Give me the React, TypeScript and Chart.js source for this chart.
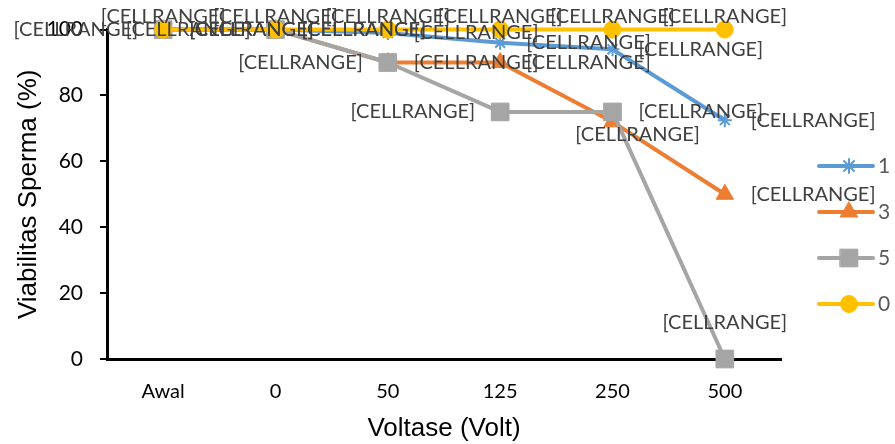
import React, { useEffect, useRef } from "react";
import { Chart, registerables } from "chart.js";
import { drawPoint } from "chart.js/helpers";

Chart.register(...registerables);

// ---- data ----
const categories = ["Awal", "0", "50", "125", "250", "500"];
const seriesNames = ["1", "3", "5", "0"];
const series1 = [100, 100, 99, 96, 94, 72.5];
const series3 = [100, 100, 90, 90, 72, 50];
const series5 = [100, 100, 90, 75, 75, 0];
const series0 = [100, 100, 100, 100, 100, 100];
const yMin = 0;
const yMax = 100;
const yStep = 20;
const pointLabelText = "[CELLRANGE]";
const xTitle = "Voltase (Volt)";
const yTitle = "Viabilitas Sperma (%)";

// ---- styles ----
const colors = ["#5B9BD5", "#ED7D31", "#A5A5A5", "#FFC000"];
const pointStyles = ["star", "triangle", "rect", "circle"];
const pointRadii = [7, 10, 12.5, 8.5];
const pointBorderW = [2, 1, 1, 1];
// label placement per series / point: r=right, l=left, t=above, br=below-right
const labelPlacement = [
  ["r", "r", "r", "r", "r", "r"],
  ["r", "r", "r", "r", "br", "r"],
  ["l", "l", "l", "l", "r", "t"],
  ["t", "t", "t", "t", "t", "t"],
];

const LABEL_FONT = "20px Lato";
const LABEL_COLOR = "#404040";

const labelPlugin = {
  id: "cellLabels",
  afterDatasetsDraw(chart: any) {
    const ctx = chart.ctx;
    ctx.save();
    ctx.font = LABEL_FONT;
    ctx.fillStyle = LABEL_COLOR;
    ctx.textBaseline = "middle";
    chart.data.datasets.forEach((ds: any, di: number) => {
      const meta = chart.getDatasetMeta(di);
      meta.data.forEach((pt: any, i: number) => {
        const pos = labelPlacement[di][i];
        let x = pt.x;
        let y = pt.y;
        let align: CanvasTextAlign = "left";
        if (pos === "r") {
          x = pt.x + 26;
          align = "left";
        } else if (pos === "l") {
          x = pt.x - 25;
          align = "right";
        } else if (pos === "t") {
          align = "center";
          y = pt.y - 36;
        } else if (pos === "br") {
          align = "center";
          x = pt.x + 25;
          y = pt.y + 13;
        }
        if (y < 17) y = 17;
        ctx.textAlign = align;
        ctx.fillText(pointLabelText, x, y);
      });
    });
    ctx.restore();
  },
};

const legendPlugin = {
  id: "sideLegend",
  afterDraw(chart: any) {
    const ctx = chart.ctx;
    ctx.save();
    const x0 = chart.width - 74;
    const y0 = 166;
    const gap = 46;
    chart.data.datasets.forEach((ds: any, i: number) => {
      const y = y0 + i * gap;
      ctx.strokeStyle = ds.borderColor;
      ctx.lineWidth = 4;
      ctx.lineCap = "round";
      ctx.beginPath();
      ctx.moveTo(x0 - 2, y);
      ctx.lineTo(x0 + 52, y);
      ctx.stroke();
      ctx.fillStyle = ds.pointBackgroundColor;
      ctx.strokeStyle = ds.pointBorderColor;
      ctx.lineWidth = ds.pointBorderWidth;
      drawPoint(ctx, { pointStyle: ds.pointStyle, rotation: 0, borderWidth: ds.pointBorderWidth, radius: ds.pointRadius }, x0 + 28, y);
      ctx.fillStyle = "#595959";
      ctx.font = "21px Lato";
      ctx.textAlign = "left";
      ctx.textBaseline = "middle";
      ctx.fillText(ds.label, x0 + 57, y);
    });
    ctx.restore();
  },
};

export default function App() {
  const ref = useRef<HTMLCanvasElement | null>(null);
  useEffect(() => {
    if (!ref.current) return;
    const values = [series1, series3, series5, series0];
    const drawOrder = [4, 3, 2, 1];
    const chart = new Chart(ref.current, {
      type: "line",
      data: {
        labels: categories,
        datasets: values.map((v, i) => ({
          label: seriesNames[i],
          data: v,
          borderColor: colors[i],
          backgroundColor: colors[i],
          borderWidth: 4,
          pointStyle: pointStyles[i] as any,
          pointRadius: pointRadii[i],
          pointHoverRadius: pointRadii[i],
          pointBackgroundColor: colors[i],
          pointBorderColor: colors[i],
          pointBorderWidth: pointBorderW[i],
          tension: 0,
          clip: false as any,
          order: drawOrder[i],
          borderJoinStyle: "round" as any,
        })),
      },
      options: {
        responsive: false,
        animation: false,
        layout: { padding: { left: 0, top: 27, right: 114, bottom: 0 } },
        plugins: {
          legend: { display: false },
          tooltip: { enabled: false },
        },
        scales: {
          x: {
            type: "category",
            offset: true,
            grid: { display: false, drawTicks: false },
            border: { display: true, color: "#000", width: 3 },
            ticks: { color: "#000", font: { family: "Lato", size: 20 }, padding: 21, maxRotation: 0 },
            title: {
              display: true,
              text: xTitle,
              color: "#000",
              font: { family: "Liberation Sans", size: 26 },
              padding: { top: 0, bottom: 0 },
            },
            afterFit: (s: any) => {
              s.height = 85;
            },
          },
          y: {
            min: yMin,
            max: yMax,
            ticks: { stepSize: yStep, color: "#000", font: { family: "Lato", size: 21 }, padding: 17 },
            grid: { display: true, drawOnChartArea: false, drawTicks: true, tickLength: 7, color: "#000", lineWidth: 2 },
            border: { display: true, color: "#000", width: 3 },
            title: {
              display: true,
              text: yTitle,
              color: "#000",
              font: { family: "Liberation Sans", size: 26 },
              padding: { top: 13, bottom: 0 },
            },
            afterFit: (s: any) => {
              s.width = 107;
            },
          },
        },
      },
      plugins: [labelPlugin, legendPlugin],
    });
    return () => chart.destroy();
  }, []);
  return (
    <div style={{ position: "fixed", left: 0, top: 0, width: 895, height: 444, background: "#fff" }}>
      <canvas ref={ref} width={895} height={444} />
    </div>
  );
}
